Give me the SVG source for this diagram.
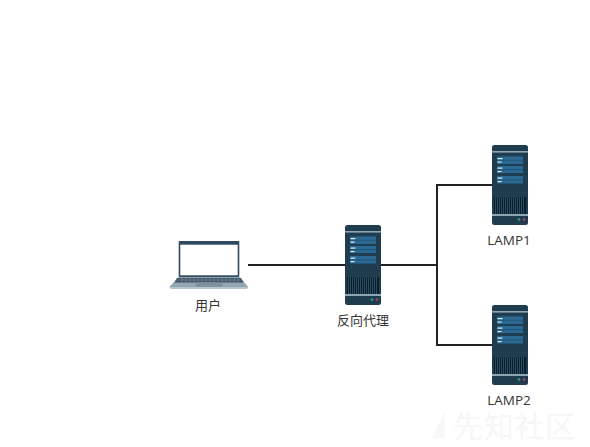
<svg xmlns="http://www.w3.org/2000/svg" width="590" height="447" viewBox="0 0 590 447">
<style>
.lbl{font-family:"Open Sans","Noto Sans CJK SC",sans-serif;font-size:13.5px;fill:#333;text-anchor:middle}
.cn{font-family:"Noto Sans CJK SC",sans-serif;font-size:13px;fill:#333;text-anchor:middle}
.wm{font-family:"Noto Sans CJK SC",sans-serif;font-size:30px;fill:#f6f6f6;letter-spacing:0.8px}
.conn{fill:none;stroke:#222;stroke-width:2}
</style>
<defs>
<g id="server">
<rect width="36" height="80" rx="2.5" fill="#1f3d4f"/>
<rect y="6" width="36" height="1.6" fill="#8fa6b3"/>
<rect x="5" y="11.500" width="26" height="7.500" fill="#2a6a94"/>
<rect x="5" y="14.800" width="26" height="0.800" fill="#1f4f70"/>
<rect x="5" y="21" width="26" height="7" fill="#2a6a94"/>
<rect x="5" y="24.300" width="26" height="0.800" fill="#1f4f70"/>
<rect x="5" y="31" width="26" height="7.500" fill="#2a6a94"/>
<rect x="5" y="34.600" width="26" height="0.800" fill="#1f4f70"/>
<rect x="5.500" y="13" width="5" height="1.200" fill="#dfe8ee"/>
<rect x="5.500" y="16.500" width="4" height="1.200" fill="#dfe8ee"/>
<rect x="5.500" y="22.500" width="5" height="1.200" fill="#dfe8ee"/>
<rect x="5.500" y="26" width="4" height="1.200" fill="#dfe8ee"/>
<rect x="5.500" y="32.500" width="5" height="1.200" fill="#dfe8ee"/>
<rect x="5.500" y="36" width="4" height="1.200" fill="#dfe8ee"/>
<rect x="2" y="52" width="32" height="17" fill="#0b1e2e"/>
<path d="M3.500 52v17M5.500 52v17M7.500 52v17M9.500 52v17M11.500 52v17M13.500 52v17M15.500 52v17M17.500 52v17M19.500 52v17M21.500 52v17M23.500 52v17M25.500 52v17M27.500 52v17M29.500 52v17M31.500 52v17" stroke="#34576b" stroke-width="0.8" fill="none"/>
<rect y="69" width="36" height="2" fill="#8fa6b3"/>
<circle cx="27" cy="74.500" r="1.300" fill="#2f9e7a"/>
<circle cx="32" cy="74.500" r="1.300" fill="#b8405e"/>
</g>
</defs>
<rect width="590" height="447" fill="#fff"/>
<g id="watermark">
<polygon points="432,438 445,412 445,438" fill="#f7f7f7"/>
<text class="wm" x="453" y="437">先知社区</text>
</g>
<g id="connectors">
<path class="conn" d="M248 265H345"/>
<path class="conn" d="M381 265H437"/>
<path class="conn" d="M492 185H437V345H492"/>
</g>
<g id="user">
<rect x="178.700" y="241" width="60.600" height="36" rx="0.800" fill="#2f4a60"/>
<rect x="180.300" y="244.700" width="57.400" height="30.600" fill="#fff"/>
<path d="M178.700 277H239.300L248.300 287H169.300Z" fill="#93a7b3"/>
<path d="M177 278H241L243.500 282.500H174.500Z" fill="#3b5063"/>
<path d="M176.500 280H241.500" stroke="#93a7b3" stroke-width="0.500"/>
<path d="M182 278V282.500M186 278V282.500M190 278V282.500M194 278V282.500M198 278V282.500M202 278V282.500M206 278V282.500M210 278V282.500M214 278V282.500M218 278V282.500M222 278V282.500M226 278V282.500M230 278V282.500M234 278V282.500M238 278V282.500" stroke="#93a7b3" stroke-width="0.500"/>
<rect x="196" y="282.500" width="26.500" height="4.300" fill="#7d919e"/>
<path d="M169.300 287H248.300L247.500 288.600Q247 289 246 289H171.500Q170.500 289 170 288.600Z" fill="#b5c5ce"/>
<text class="cn" x="208" y="310">用户</text>
</g>
<g id="proxy">
<use href="#server" x="345" y="225"/>
<text class="cn" x="363" y="325">反向代理</text>
</g>
<g id="lamp1">
<use href="#server" x="492" y="145"/>
<text class="lbl" x="509" y="245">LAMP1</text>
</g>
<g id="lamp2">
<use href="#server" x="492" y="305"/>
<text class="lbl" x="509" y="404.500">LAMP2</text>
</g>
</svg>
